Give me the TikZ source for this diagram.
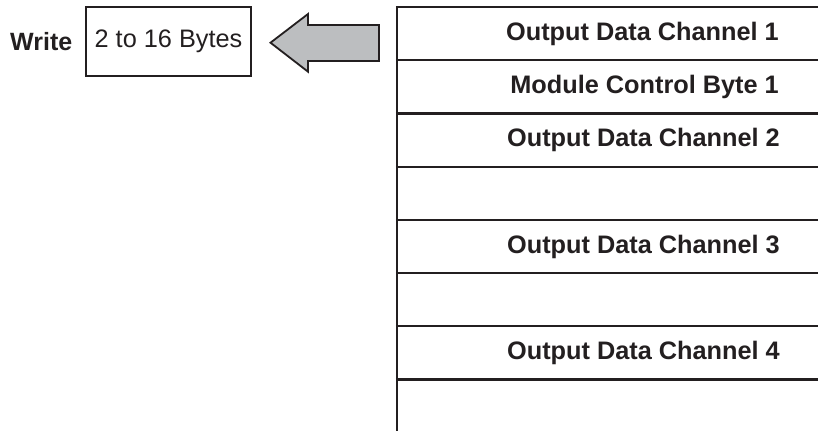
\documentclass[tikz,border=0pt]{standalone}
\usepackage{fontspec}
\setmainfont{Liberation Sans}
\definecolor{ink}{HTML}{231F20}
\definecolor{arrowgray}{HTML}{BCBEC0}
\begin{document}
\begin{tikzpicture}[x=1pt,y=-1pt,
  ink line/.style={draw=ink,line width=2.2pt},
  rowtext/.style={anchor=east,inner sep=0pt,text=ink,font=\fontsize{25.3}{30}\selectfont\bfseries},
  bytebox/.style={draw=ink,line width=1.6pt,minimum width=165pt,minimum height=69pt,inner sep=0pt,text=ink,font=\fontsize{25.3}{30}\selectfont},
  lbl/.style={inner sep=0pt,text=ink,font=\fontsize{25}{30}\selectfont\bfseries}]
\useasboundingbox (0,0) rectangle (818,431);
% left label and box
\node[lbl,anchor=west] (write) at (10,41.5) {Write};
\node[bytebox] (bytes) at (168.5,41.5) {2 to 16 Bytes};
% big arrow
\draw[draw=ink,line width=1.8pt,fill=arrowgray,line join=miter]
  (270.5,42.7) -- (308,14) -- (308,25) -- (379,25) -- (379,61) -- (308,61) -- (308,71.7) -- cycle;
% table
\draw[ink line] (397,7) -- (397,431);
\foreach \k in {0,...,7} {
  \draw[ink line] (395.9,{7+53.2*\k}) -- (818,{7+53.2*\k});
}
\node[rowtext] (r1) at (779,33.8) {Output Data Channel 1};
\node[rowtext] (r2) at (779,87.0) {Module Control Byte 1};
\node[rowtext] (r3) at (780,140.2) {Output Data Channel 2};
\node[rowtext] (r5) at (780,246.6) {Output Data Channel 3};
\node[rowtext] (r7) at (780,353.0) {Output Data Channel 4};
\end{tikzpicture}
\end{document}
